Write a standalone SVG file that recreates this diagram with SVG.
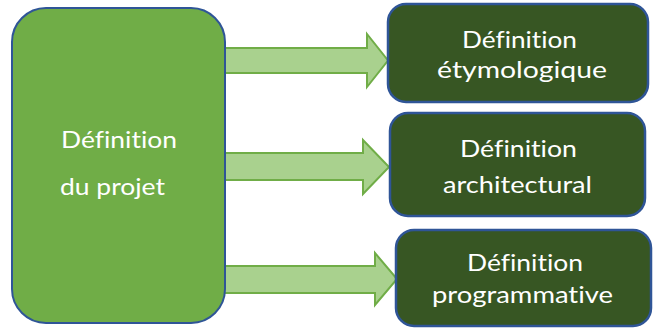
<svg xmlns="http://www.w3.org/2000/svg" width="653" height="328" viewBox="0 0 653 328">
  <style>
    .main { fill: #70AD47; stroke: #2F5597; stroke-width: 2; }
    .sub { fill: #375623; stroke: #2F5597; stroke-width: 2.5; }
    .arrow { fill: #A9D18E; stroke: #70AD47; stroke-width: 2; stroke-linejoin: miter; }
    text { font-family: Lato, "Open Sans", "Liberation Sans", sans-serif; fill: #FFFFFF; font-size: 24px; font-variant-ligatures: none; font-feature-settings: "liga" 0, "clig" 0; }
  </style>
  <rect width="653" height="328" fill="#FFFFFF"/>

  <!-- connectors: block arrows -->
  <g id="connectors">
    <path class="arrow" d="M222,48 H367 V34 L388,60.5 L367,87 V73 H222 Z"/>
    <path class="arrow" d="M222,153 H363 V140 L389,167 L363,194 V180 H222 Z"/>
    <path class="arrow" d="M222,266 H375 V253 L397,279 L375,305 V293 H222 Z"/>
  </g>

  <g id="node-projet">
    <rect class="main" x="12" y="8" width="213" height="315" rx="34" ry="34"/>
    <text x="61" y="148" textLength="116" lengthAdjust="spacingAndGlyphs">Définition</text>
    <text x="60" y="195" textLength="105" lengthAdjust="spacingAndGlyphs">du projet</text>
  </g>

  <g id="node-etymologique">
    <rect class="sub" x="388" y="4" width="260" height="98" rx="18" ry="18"/>
    <text x="462" y="48" textLength="115" lengthAdjust="spacingAndGlyphs">Définition</text>
    <text x="437" y="78" textLength="170" lengthAdjust="spacingAndGlyphs">étymologique</text>
  </g>

  <g id="node-architectural">
    <rect class="sub" x="390" y="113" width="255" height="103" rx="18" ry="18"/>
    <text x="460" y="157" textLength="117" lengthAdjust="spacingAndGlyphs">Définition</text>
    <text x="443" y="193" textLength="149" lengthAdjust="spacingAndGlyphs">architectural</text>
  </g>

  <g id="node-programmative">
    <rect class="sub" x="396" y="230" width="255" height="96" rx="18" ry="18"/>
    <text x="467" y="271" textLength="116" lengthAdjust="spacingAndGlyphs">Définition</text>
    <text x="432" y="303" textLength="181" lengthAdjust="spacingAndGlyphs">programmative</text>
  </g>
</svg>
